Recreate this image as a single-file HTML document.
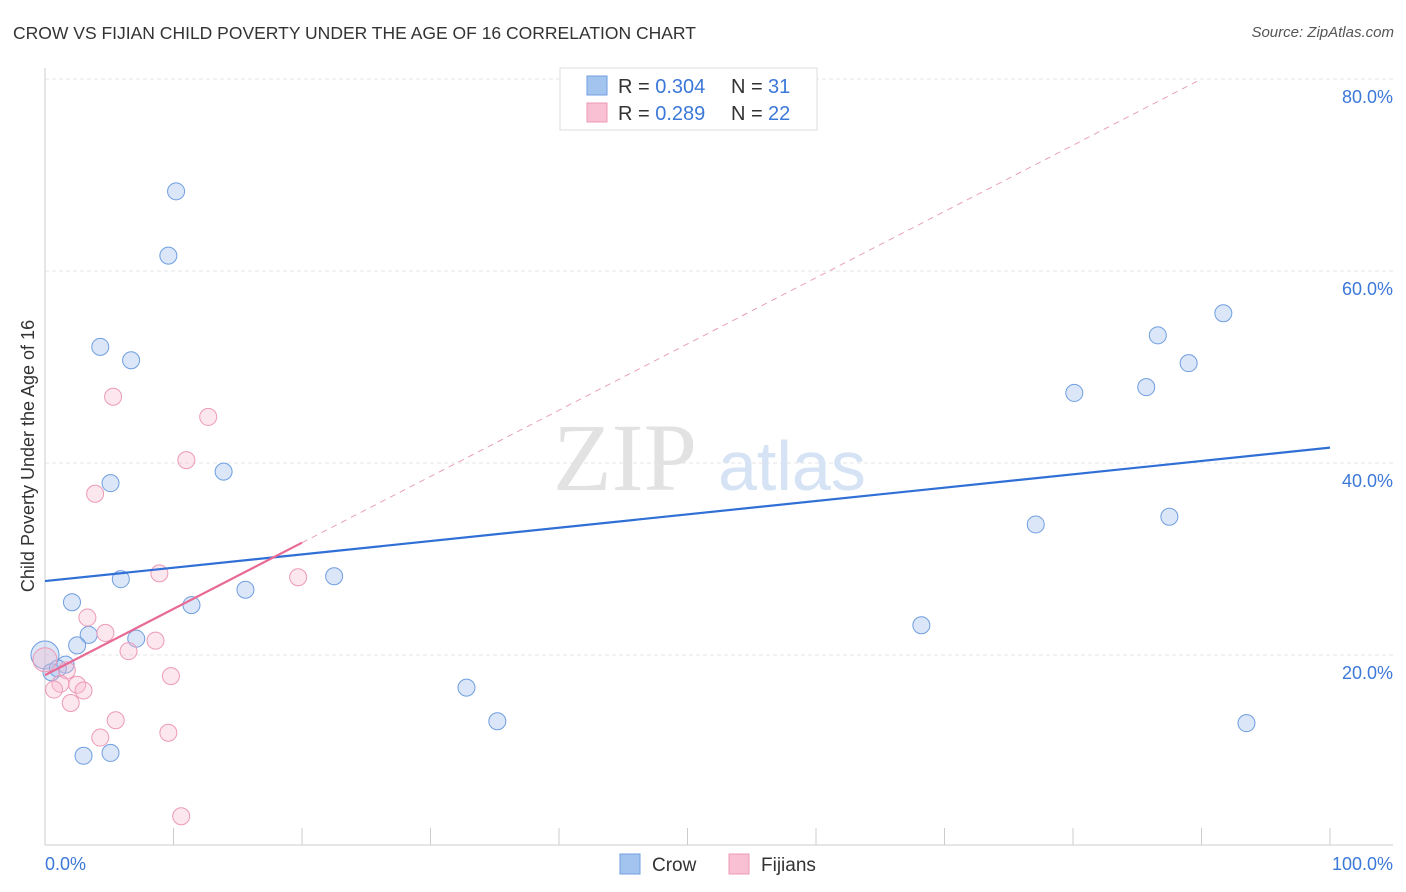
<!DOCTYPE html>
<html><head><meta charset="utf-8">
<style>
body{margin:0;background:#fff;font-family:"Liberation Sans",sans-serif;}
#wrap{position:relative;width:1406px;height:892px;overflow:hidden;}
.t{position:absolute;white-space:nowrap;}
</style></head>
<body>
<div id="wrap">
<div class="t" style="left:13px;top:23px;font-size:17.5px;color:#333;">CROW VS FIJIAN CHILD POVERTY UNDER THE AGE OF 16 CORRELATION CHART</div>
<div class="t" style="right:12px;top:24px;font-size:15px;color:#555;font-style:italic;">Source: ZipAtlas.com</div>
<svg id="svg" width="1406" height="892" style="position:absolute;left:0;top:0;"></svg>
</div>
<script>
const crowX=[10.2,9.6,4.3,6.7,5.1,13.9,5.9,2.1,11.4,15.6,22.5,3.4,2.5,7.1,0,1.6,0.5,1.0,3.0,5.1,32.8,35.2,68.2,77.1,80.1,85.7,86.6,89.0,87.5,91.7,93.5];
const crowY=[68.3,61.6,52.1,50.7,37.9,39.1,27.9,25.5,25.2,26.8,28.2,22.1,21.0,21.7,20,19.0,18.2,18.6,9.5,9.8,16.6,13.1,23.1,33.6,47.3,47.9,53.3,50.4,34.4,55.6,12.9];
const fijX=[5.3,12.7,11.0,3.9,8.9,19.7,3.3,4.7,8.6,6.5,9.8,1.7,1.2,2.5,0.7,3.0,2.0,5.5,4.3,9.6,10.6,0];
const fijY=[46.9,44.8,40.3,36.8,28.5,28.1,23.9,22.3,21.5,20.4,17.8,18.4,17.0,16.9,16.4,16.3,15.0,13.2,11.4,11.9,3.2,19.5];
const yTicks=[20,40,60,80];
const yTickLabels=["20.0%","40.0%","60.0%","80.0%"];
const crowTrend=[27.7,41.6];
const fijTrend=[17.9,31.7];
const NS="http://www.w3.org/2000/svg";
const svg=document.getElementById('svg');
const X=v=>45+v*12.85, Y=v=>847-v*9.6;
function mk(t,a,p){const e=document.createElementNS(NS,t);for(const k in a)e.setAttribute(k,a[k]);(p||svg).appendChild(e);return e;}
yTicks.forEach((t,i)=>{
 const g=mk('line',{x1:45,x2:1393,y1:Y(t),y2:Y(t),stroke:'#e4e4e4','stroke-dasharray':'4,3'});
 
 const tx=mk('text',{x:1393,y:Y(t)+24,'text-anchor':'end','font-size':18,fill:'#3c78d8','font-family':'Liberation Sans'});
 tx.textContent=yTickLabels[i];
 
});
let a=mk('line',{x1:45,x2:1393,y1:845,y2:845,stroke:'#ccc'});
a=mk('line',{x1:45,x2:45,y1:68,y2:845,stroke:'#ccc'});
for(let i=0;i<=10;i++){const l=mk('line',{x1:X(i*10),x2:X(i*10),y1:828,y2:845,stroke:'#ccc'});}
let t=mk('text',{x:45,y:870,'font-size':18,fill:'#3c78d8'});t.textContent='0.0%';
t=mk('text',{x:1393,y:870,'font-size':18,fill:'#3c78d8','text-anchor':'end'});t.textContent='100.0%';
t=mk('text',{x:34,y:456,'font-size':18,fill:'#333','text-anchor':'middle',transform:'rotate(-90 34 456)'});t.textContent='Child Poverty Under the Age of 16';
t=mk('text',{x:553,y:490,'font-size':96,fill:'#e2e2e2','font-family':'Liberation Serif'});t.textContent='ZIP';
t=mk('text',{x:718,y:490,'font-size':70,fill:'#d5e3f5'});t.textContent='atlas';
crowX.forEach((x,i)=>{const c=mk('circle',{cx:X(x),cy:Y(crowY[i]),r:(x===0?14:8.5),fill:'rgba(164,196,240,0.4)',stroke:'#6f9ee0','stroke-width':1});});
fijX.forEach((x,i)=>{const c=mk('circle',{cx:X(x),cy:Y(fijY[i]),r:(x===0?12:8.5),fill:'rgba(248,186,206,0.35)',stroke:'#ec9ab6','stroke-width':1});});
const slope=(fijTrend[1]-fijTrend[0])/20;
const xEnd=Math.min(100,(80-fijTrend[0])/slope);
a=mk('line',{x1:X(20),y1:Y(fijTrend[1]),x2:X(xEnd),y2:Y(fijTrend[0]+slope*xEnd),stroke:'#e8a0b8','stroke-dasharray':'6,5','stroke-width':1});
a=mk('line',{x1:X(0),y1:Y(crowTrend[0]),x2:X(100),y2:Y(crowTrend[1]),stroke:'#2f6fd6','stroke-width':2.2});
a=mk('line',{x1:X(0),y1:Y(fijTrend[0]),x2:X(20),y2:Y(fijTrend[1]),stroke:'#e86a94','stroke-width':2.2});
let g=mk('rect',{x:560,y:68,width:257,height:62,fill:'#fff',stroke:'#ddd'});
[[0,'#a4c4f0','#6f9ee0','0.304','31'],[1,'#f8c0d2','#ec9ab6','0.289','22']].forEach(r=>{
 const y=76+r[0]*27;
 let s=mk('rect',{x:587,y:y,width:20,height:19,fill:r[1],stroke:r[2]});
 let tt=mk('text',{x:618,y:y+17,'font-size':20,fill:'#333'});
 tt.innerHTML='R = <tspan fill="#3c78d8">'+r[3]+'</tspan><tspan x="731">N = </tspan><tspan fill="#3c78d8" x="768">'+r[4]+'</tspan>';
});
[[620,'#a4c4f0','#6f9ee0','Crow'],[729,'#f8c0d2','#ec9ab6','Fijians']].forEach(r=>{
 let s=mk('rect',{x:r[0],y:854,width:20,height:20,fill:r[1],stroke:r[2]});
 let tt=mk('text',{x:r[0]+32,y:871,'font-size':19,fill:'#333'});tt.textContent=r[3];
});
</script>
</body></html>
